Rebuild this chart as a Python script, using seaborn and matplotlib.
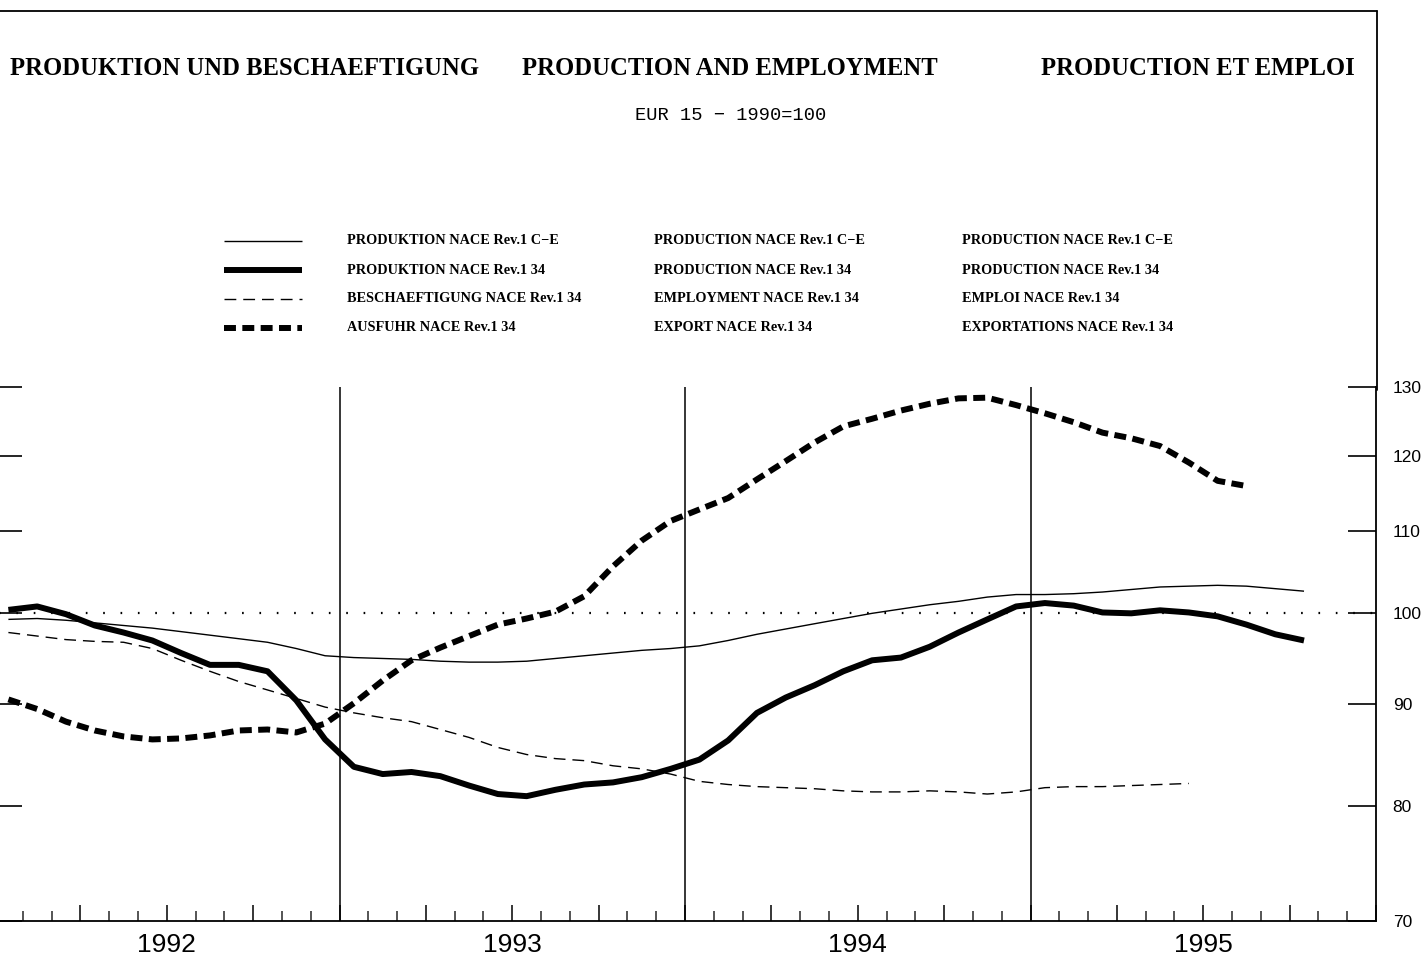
import numpy as np
import pandas as pd
import matplotlib
matplotlib.use("Agg")
import matplotlib.pyplot as plt
from matplotlib.lines import Line2D
from matplotlib.ticker import NullLocator, FixedLocator
import seaborn as sns

# Monthly index values, EUR 15, 1990 = 100 (first month: January 1992)
prod_ce = [99.3, 99.4, 99.2, 98.9, 98.6, 98.3, 97.9, 97.5, 97.1, 96.7, 96.0, 95.2,
           95.0, 94.9, 94.8, 94.6, 94.5, 94.5, 94.6, 94.9, 95.2, 95.5, 95.8, 96.0,
           96.3, 96.9, 97.6, 98.2, 98.8, 99.4, 100.0, 100.5, 101.0, 101.4, 101.9, 102.2,
           102.2, 102.3, 102.5, 102.8, 103.1, 103.2, 103.3, 103.2, 102.9, 102.6]
prod_34 = [100.4, 100.8, 99.9, 98.6, 97.8, 96.9, 95.5, 94.2, 94.2, 93.5, 90.4, 86.4,
           83.7, 83.0, 83.2, 82.8, 81.9, 81.1, 80.9, 81.5, 82.0, 82.2, 82.7, 83.5,
           84.4, 86.3, 89.1, 90.7, 92.0, 93.5, 94.7, 95.0, 96.2, 97.8, 99.3, 100.8,
           101.2, 100.9, 100.1, 100.0, 100.35, 100.1, 99.65, 98.7, 97.6, 96.9]
empl_34 = [97.8, 97.4, 97.0, 96.8, 96.7, 96.0, 94.7, 93.5, 92.4, 91.5, 90.6, 89.7,
           89.1, 88.6, 88.2, 87.4, 86.6, 85.6, 84.9, 84.5, 84.3, 83.8, 83.5, 83.0,
           82.3, 82.0, 81.8, 81.7, 81.6, 81.4, 81.3, 81.3, 81.4, 81.3, 81.1, 81.3,
           81.7, 81.8, 81.8, 81.9, 82.0, 82.1]
export_34 = [90.5, 89.5, 88.2, 87.3, 86.7, 86.4, 86.5, 86.8, 87.3, 87.4, 87.1, 88.0,
             90.1, 92.5, 94.7, 96.1, 97.4, 98.7, 99.4, 100.2, 102.0, 105.6, 108.8, 111.3,
             112.8, 114.3, 116.8, 119.3, 121.9, 124.2, 125.3, 126.5, 127.5, 128.3, 128.4, 127.3,
             126.1, 124.8, 123.3, 122.5, 121.4, 119.1, 116.6, 115.9]

years = [1992, 1993, 1994, 1995]
y_ticks = [70, 80, 90, 100, 110, 120, 130]

labels_de = ["PRODUKTION NACE Rev.1 C\u2212E", "PRODUKTION NACE Rev.1 34",
             "BESCHAEFTIGUNG NACE Rev.1 34", "AUSFUHR NACE Rev.1 34"]
labels_en = ["PRODUCTION NACE Rev.1 C\u2212E", "PRODUCTION NACE Rev.1 34",
             "EMPLOYMENT NACE Rev.1 34", "EXPORT NACE Rev.1 34"]
labels_fr = ["PRODUCTION NACE Rev.1 C\u2212E", "PRODUCTION NACE Rev.1 34",
             "EMPLOI NACE Rev.1 34", "EXPORTATIONS NACE Rev.1 34"]

title_de = "PRODUKTION UND BESCHAEFTIGUNG"
title_en = "PRODUCTION AND EMPLOYMENT"
title_fr = "PRODUCTION ET EMPLOI"
subtitle = "EUR 15 \u2212 1990=100"

sns.set_theme(style="white")
plt.rcParams["font.family"] = ["Liberation Serif", "DejaVu Serif"]
plt.rcParams["lines.scale_dashes"] = False

W, H = 1426, 958
fig = plt.figure(figsize=(W / 100, H / 100), dpi=100)
fig.patch.set_facecolor("white")


def fx(px):
    return px / W


def fy(py):
    return 1 - py / H


ax = fig.add_axes([fx(-6), fy(921), (1376 + 6) / W, (921 - 387) / H])
ax.set_facecolor("white")


def month_pos(n):
    return [1992 + (i + 0.5) / 12 for i in range(n)]


frames = []
for key, vals in [("ce", prod_ce), ("p34", prod_34), ("emp", empl_34), ("exp", export_34)]:
    frames.append(pd.DataFrame({"t": month_pos(len(vals)), "v": vals, "s": key}))
df = pd.concat(frames, ignore_index=True)

styles = {
    "ce": dict(lw=1.0, dash=None),
    "p34": dict(lw=4.3, dash=None),
    "emp": dict(lw=1.0, dash=(8.5, 5.0)),
    "exp": dict(lw=4.3, dash=(8.6, 4.6)),
}

for key in ["ce", "emp", "exp", "p34"]:
    sub = df[df["s"] == key]
    n_before = len(ax.lines)
    sns.lineplot(data=sub, x="t", y="v", ax=ax, color="black",
                 linewidth=styles[key]["lw"], estimator=None, sort=True)
    line = ax.lines[n_before]
    if styles[key]["dash"] is not None:
        line.set_dashes(styles[key]["dash"])
        line.set_dash_capstyle("butt")
    else:
        line.set_solid_capstyle("butt")
    line.set_solid_joinstyle("round")

ax.set_yscale("log")
ax.set_ylim(70, 130)
ax.set_xlim(1992, 1996)

# reference line at 100 (dotted)
ax.axhline(100, color="black", lw=1.6, linestyle=(0, (1.2, 11.3)), zorder=1)

# year boundaries
for yr in years[1:]:
    ax.axvline(yr, color="black", lw=1.1, zorder=1)

# y axis: ticks on both sides, labels on the right
ax.yaxis.set_major_locator(FixedLocator(y_ticks))
ax.yaxis.set_minor_locator(NullLocator())
ax.set_yticklabels([str(v) for v in y_ticks])
ax.tick_params(axis="y", which="major", direction="in", left=True, right=True,
               labelleft=False, labelright=True, length=20, width=1.2,
               labelsize=12.5, pad=12, colors="black")
for lab in ax.get_yticklabels():
    lab.set_family(["Liberation Sans", "DejaVu Sans"])

# x axis: monthly ticks, quarterly taller
months = [1992 + k / 12 for k in range(0, 49)]
quarters = [1992 + k / 4 for k in range(0, 17)]
ax.xaxis.set_major_locator(FixedLocator(quarters))
ax.xaxis.set_minor_locator(FixedLocator(months))
ax.tick_params(axis="x", which="major", direction="in", length=11.5, width=1.1,
               labelbottom=False, bottom=True, colors="black")
ax.tick_params(axis="x", which="minor", direction="in", length=7.2, width=1.1,
               bottom=True)
for yr in years:
    ax.text(yr + 0.5, -(952 - 921) / 534, str(yr), transform=ax.get_xaxis_transform(),
            ha="center", va="baseline", fontsize=19,
            family=["Liberation Sans", "DejaVu Sans"], color="black")

ax.set_xlabel("")
ax.set_ylabel("")
ax.spines["top"].set_visible(False)
for side in ["right", "bottom", "left"]:
    ax.spines[side].set_visible(True)
    ax.spines[side].set_color("black")
    ax.spines[side].set_linewidth(1.3)
ax.grid(False)

# outer frame: top rule and right edge up to it
fig.add_artist(Line2D([fx(0), fx(1377)], [fy(11), fy(11)], transform=fig.transFigure,
                      color="black", lw=1.3))
fig.add_artist(Line2D([fx(1377), fx(1377)], [fy(11), fy(390)], transform=fig.transFigure,
                      color="black", lw=1.3))

# titles
tkw = dict(fontsize=17.7, fontweight="bold", va="baseline", ha="left",
           family=["Liberation Serif", "DejaVu Serif"], color="black")
fig.text(fx(10), fy(75), title_de, **tkw)
fig.text(fx(522), fy(75), title_en, **tkw)
fig.text(fx(1041), fy(75), title_fr, **tkw)
fig.text(fx(731), fy(115), subtitle, ha="center", va="center", fontsize=13.5,
         family=["Liberation Mono", "DejaVu Sans Mono"], color="black")

# legend: key samples and three language columns
rows_y = [241, 270, 299, 328]
for k, key in enumerate(["ce", "p34", "emp", "exp"]):
    st = styles[key]
    ln = Line2D([fx(224), fx(302)], [fy(rows_y[k]), fy(rows_y[k])],
                transform=fig.transFigure, color="black", lw=st["lw"])
    if st["dash"] is not None:
        ln.set_dashes(st["dash"])
        ln.set_dash_capstyle("butt")
    else:
        ln.set_solid_capstyle("butt")
    fig.add_artist(ln)
    lkw = dict(fontsize=10.3, fontweight="bold", va="center", ha="left",
               family=["Liberation Serif", "DejaVu Serif"], color="black")
    fig.text(fx(347), fy(rows_y[k]), labels_de[k], **lkw)
    fig.text(fx(654), fy(rows_y[k]), labels_en[k], **lkw)
    fig.text(fx(962), fy(rows_y[k]), labels_fr[k], **lkw)

fig.savefig("out.png", dpi=100, facecolor="white")
